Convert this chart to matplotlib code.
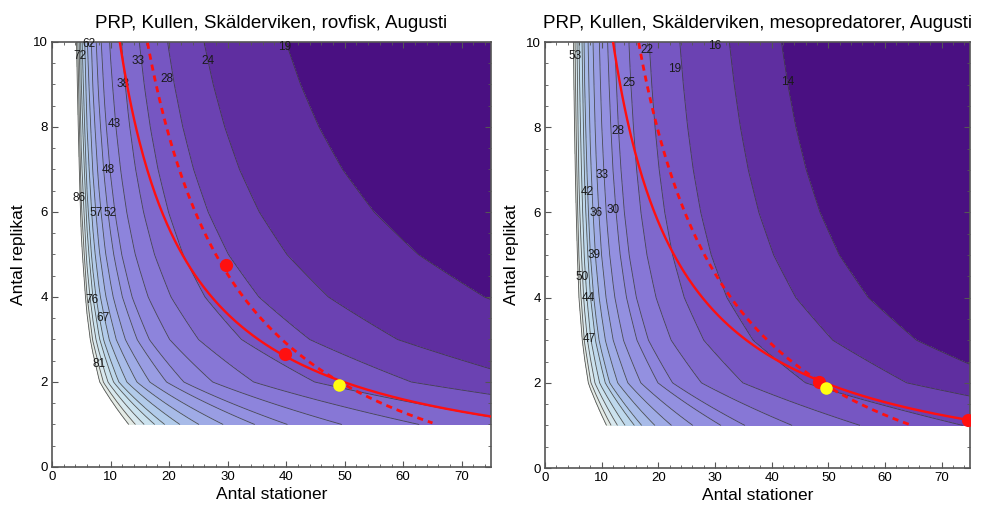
"""PRP contour maps for Kullen / Skälderviken, August: stations vs replicates."""

import matplotlib
matplotlib.use("Agg")
import matplotlib.pyplot as plt
from matplotlib.ticker import MultipleLocator
import numpy as np

plt.rcParams["font.family"] = ["Liberation Sans", "DejaVu Sans"]

# sampling grid (stations x replicates)
STATIONS = np.arange(3, 76)
REPLICATES = np.arange(1, 11)

# variance model per group: PRP = scale * t(n-1) * sqrt((1 + ratio / m) / n)
ROVFISK_SCALE = 37.4
ROVFISK_RATIO = 15.2
MESO_SCALE = 38.5
MESO_RATIO = 3.52

# contour levels (as labelled on the lines); top value caps the filled area
ROVFISK_LEVELS = [19, 24, 28, 33, 38, 43, 48, 52, 57, 62, 67, 72, 76, 81, 86]
ROVFISK_CAP = 90.5
MESO_LEVELS = [14, 16, 19, 22, 25, 28, 30, 33, 36, 39, 42, 44, 47, 50, 53]
MESO_CAP = 55.5

# label anchor (stations, replicates) for each labelled level
ROVFISK_LABEL_POS = {
    19: (39.8, 9.89), 24: (26.7, 9.56), 28: (19.7, 9.12), 33: (14.7, 9.56),
    38: (12.1, 9.01), 43: (10.6, 8.07), 48: (9.6, 6.99), 52: (9.9, 5.98),
    57: (7.6, 5.98), 62: (6.3, 9.96), 67: (8.75, 3.5), 72: (4.7, 9.66),
    76: (6.8, 3.93), 81: (8.1, 2.42), 86: (4.7, 6.32),
}
MESO_LABEL_POS = {
    14: (42.9, 9.07), 16: (30.0, 9.91), 19: (22.9, 9.36), 22: (17.9, 9.81),
    25: (14.9, 9.04), 28: (12.9, 7.92), 30: (12.0, 6.06), 33: (10.0, 6.88),
    36: (9.0, 5.99), 39: (8.6, 5.0), 42: (7.4, 6.49), 44: (7.6, 3.98),
    47: (7.8, 3.02), 50: (6.5, 4.48), 53: (5.3, 9.67),
}

# cost curves: replicates = budget / stations - station_cost
ROVFISK_SOLID = (120.6, 0.42)
ROVFISK_DASHED = (194.8, 1.96)
MESO_SOLID = (126.9, 0.57)
MESO_DASHED = (199.4, 2.08)
DASHED_END = 65.0

# chosen designs
ROVFISK_RED_X = [29.8, 39.8]
ROVFISK_RED_Y = [4.75, 2.66]
ROVFISK_YELLOW = (49.1, 1.93)
MESO_RED_X = [48.4, 74.6]
MESO_RED_Y = [2.01, 1.12]
MESO_YELLOW = (49.6, 1.89)

BAND_COLORS = [
    "#4a1082", "#5f2ea0", "#6b42b2", "#7656c2", "#7f68cc", "#8777d6",
    "#8d84dc", "#9390e0", "#999de3", "#9fabe6", "#a8bbe8", "#b2cbea",
    "#bed8ec", "#cbe2ee", "#d8e8ee", "#e4ebe6",
]


def t975(df):
    """Two-sided 95 % t quantile (Cornish-Fisher expansion)."""
    z = 1.959964
    return (z
            + (z**3 + z) / (4 * df)
            + (5 * z**5 + 16 * z**3 + 3 * z) / (96 * df**2)
            + (3 * z**7 + 19 * z**5 + 17 * z**3 - 15 * z) / (384 * df**3)
            + (79 * z**9 + 776 * z**7 + 1482 * z**5 - 1920 * z**3 - 945 * z)
            / (92160 * df**4))


def prp_field(scale, ratio):
    n, m = np.meshgrid(STATIONS, REPLICATES)
    return scale * t975(n - 1) * np.sqrt((1 + ratio / m) / n)


def draw_panel(ax, title, scale, ratio, levels, cap, label_pos,
               solid, dashed, red_x, red_y, yellow):
    z = prp_field(scale, ratio)
    fill_levels = [0] + levels + [cap]
    ax.contourf(STATIONS, REPLICATES, z, levels=fill_levels,
                colors=BAND_COLORS[:len(fill_levels) - 1])
    ax.contour(STATIONS, REPLICATES, z, levels=levels + [cap],
               colors="#3a3a3a", linewidths=0.6, alpha=0.85)
    for lev in levels:
        x, y = label_pos[lev]
        ax.text(x, y, f"{lev}", fontsize=8.5, color="#1a1a1a",
                ha="center", va="center")

    xs = np.linspace(8, 75, 300)
    ax.plot(xs, solid[0] / xs - solid[1], color="#ff1010", lw=1.7, zorder=4)
    xd = np.linspace(12, DASHED_END, 300)
    ax.plot(xd, dashed[0] / xd - dashed[1], color="#ff1010", lw=2.0,
            dashes=(2.2, 1.8), zorder=4)

    ax.plot(red_x, red_y, "o", color="#ff1010", ms=9.5, mec="none", zorder=5)
    ax.plot(*yellow, "o", color="#ffff10", ms=9, mec="none", zorder=5)

    ax.set_xlim(0, 75)
    ax.set_ylim(0, 10)
    ax.xaxis.set_major_locator(MultipleLocator(10))
    ax.xaxis.set_minor_locator(MultipleLocator(2))
    ax.yaxis.set_major_locator(MultipleLocator(2))
    ax.yaxis.set_minor_locator(MultipleLocator(0.5))
    ax.tick_params(which="both", direction="in", top=True, right=True,
                   color="#555555", labelsize=9.5, pad=3)
    ax.tick_params(which="major", length=4, width=0.8)
    ax.tick_params(which="minor", length=2, width=0.6)
    for sp in ax.spines.values():
        sp.set_color("#555555")
        sp.set_linewidth(1.2)
    ax.set_title(title, fontsize=13.5, pad=10)
    ax.set_xlabel("Antal stationer", fontsize=12.5, labelpad=3)
    ax.set_ylabel("Antal replikat", fontsize=12.5, labelpad=5)


fig = plt.figure(figsize=(9.87, 5.12), dpi=100)
ax1 = fig.add_axes([0.0527, 0.0879, 0.4448, 0.8301])
ax2 = fig.add_axes([0.5522, 0.0859, 0.4306, 0.8320])

draw_panel(ax1, "PRP, Kullen, Skälderviken, rovfisk, Augusti",
           ROVFISK_SCALE, ROVFISK_RATIO, ROVFISK_LEVELS, ROVFISK_CAP,
           ROVFISK_LABEL_POS, ROVFISK_SOLID, ROVFISK_DASHED,
           ROVFISK_RED_X, ROVFISK_RED_Y, ROVFISK_YELLOW)
draw_panel(ax2, "PRP, Kullen, Skälderviken, mesopredatorer, Augusti",
           MESO_SCALE, MESO_RATIO, MESO_LEVELS, MESO_CAP,
           MESO_LABEL_POS, MESO_SOLID, MESO_DASHED,
           MESO_RED_X, MESO_RED_Y, MESO_YELLOW)

fig.savefig("out.png", dpi=100)
